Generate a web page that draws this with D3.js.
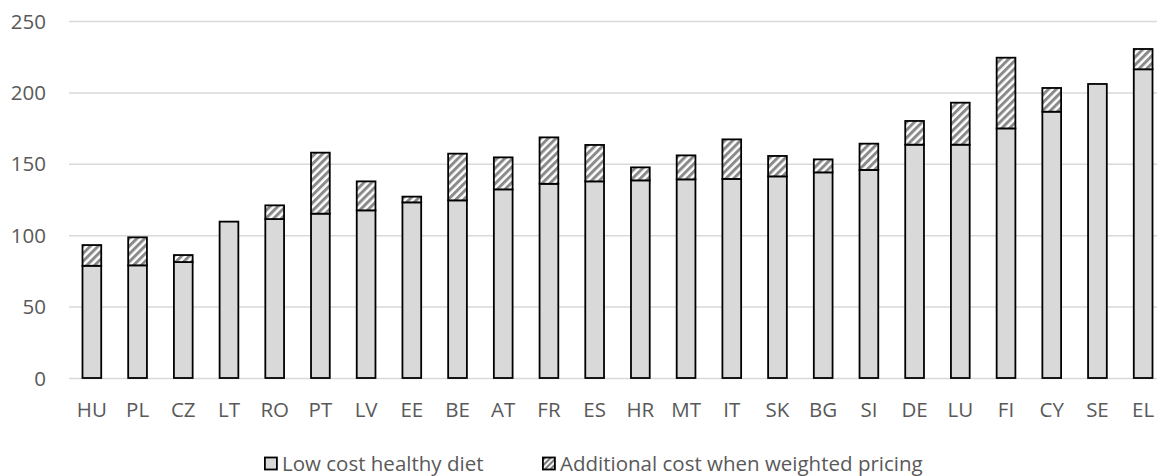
<!DOCTYPE html>
<html>
<head>
<meta charset="utf-8">
<script src="https://cdn.jsdelivr.net/npm/d3@7"></script>
<style>
  html, body { margin: 0; padding: 0; background: #fff; }
  svg { display: block; }
  text { font-family: "Open Sans", sans-serif; fill: #595959; }
</style>
</head>
<body>
<svg id="chart" width="1157" height="476"></svg>
<script>
const categories = ["HU","PL","CZ","LT","RO","PT","LV","EE","BE","AT","FR","ES","HR","MT","IT","SK","BG","SI","DE","LU","FI","CY","SE","EL"];
const lowCost =    [78.6, 78.9, 81.2, 109.5, 111.3, 115.1, 117.4, 123.0, 124.4, 132.1, 136.0, 137.7, 138.4, 139.1, 139.4, 141.2, 144.0, 145.7, 163.4, 163.4, 174.8, 186.5, 205.9, 216.2];
const additional = [14.5, 19.6, 4.9, 0, 9.6, 42.7, 20.3, 4.0, 32.7, 22.4, 32.5, 25.5, 9.1, 16.8, 27.7, 14.3, 9.1, 18.4, 16.6, 29.4, 49.5, 16.6, 0, 14.2];
const yTicks = [0, 50, 100, 150, 200, 250];
const seriesNames = ["Low cost healthy diet", "Additional cost when weighted pricing"];

(function () {
const svg = d3.select("#chart");
const mLeft = 69, mRight = 1166, mTop = 21, mBottom = 378;
const fs = "20.5px";

const x = d3.scaleBand().domain(categories).range([mLeft, mRight]).paddingInner(0.59).paddingOuter(0.295);
const y = d3.scaleLinear().domain([0, 250]).range([mBottom, mTop]);

// hatch pattern
const defs = svg.append("defs");
const pat = defs.append("pattern").attr("id", "hatch").attr("patternUnits", "userSpaceOnUse")
  .attr("width", 5.5).attr("height", 5.5).attr("patternTransform", "rotate(45)");
pat.append("rect").attr("width", 5.5).attr("height", 5.5).attr("fill", "#ffffff");
pat.append("rect").attr("width", 3).attr("height", 5.5).attr("fill", "#8a8a8a");

const patL = defs.append("pattern").attr("id", "hatchL").attr("patternUnits", "userSpaceOnUse")
  .attr("width", 4).attr("height", 4).attr("patternTransform", "rotate(45)");
patL.append("rect").attr("width", 4).attr("height", 4).attr("fill", "#ffffff");
patL.append("rect").attr("width", 2.2).attr("height", 4).attr("fill", "#7a7a7a");

// gridlines
const yAxis = d3.axisLeft(y).tickValues(yTicks).tickSize(-(mRight - mLeft)).tickPadding(23);
const gy = svg.append("g").attr("transform", `translate(${mLeft},0)`).call(yAxis);
gy.select(".domain").remove();
gy.selectAll(".tick line").attr("stroke", "#d9d9d9").attr("stroke-width", 1.5);
gy.selectAll(".tick text").style("font-size", fs).attr("fill", "#595959").attr("dy", "0.35em");

// bars
const data = categories.map((c, i) => ({c, a: lowCost[i], b: additional[i]}));
const bw = x.bandwidth();
const g = svg.append("g");
g.selectAll("rect.low").data(data).join("rect").attr("class", "low")
  .attr("x", d => x(d.c)).attr("width", bw)
  .attr("y", d => y(d.a)).attr("height", d => y(0) - y(d.a))
  .attr("fill", "#d9d9d9").attr("stroke", "#000").attr("stroke-width", 1.8);
g.selectAll("rect.add").data(data.filter(d => d.b > 0)).join("rect").attr("class", "add")
  .attr("x", d => x(d.c)).attr("width", bw)
  .attr("y", d => y(d.a + d.b)).attr("height", d => y(d.a) - y(d.a + d.b))
  .attr("fill", "url(#hatch)").attr("stroke", "#000").attr("stroke-width", 1.8);

// x axis labels
const xAxis = d3.axisBottom(x).tickSize(0).tickPadding(0);
const gx = svg.append("g").attr("transform", `translate(0,${mBottom})`).call(xAxis);
gx.select(".domain").remove();
gx.selectAll(".tick text").style("font-size", fs).attr("fill", "#595959").attr("y", 39).attr("dy", 0);

// legend
const leg = svg.append("g");
const items = [
  {name: seriesNames[0], fill: "#d9d9d9", x: 264},
  {name: seriesNames[1], fill: "url(#hatchL)", x: 542}
];
items.forEach(it => {
  leg.append("rect").attr("x", it.x + 0.9).attr("y", 457.5).attr("width", 12).attr("height", 12)
    .attr("fill", it.fill).attr("stroke", "#000").attr("stroke-width", 1.8);
  leg.append("text").attr("x", it.x + 18).attr("y", 470.5).style("font-size", fs).text(it.name);
});
})();
</script>
</body>
</html>
